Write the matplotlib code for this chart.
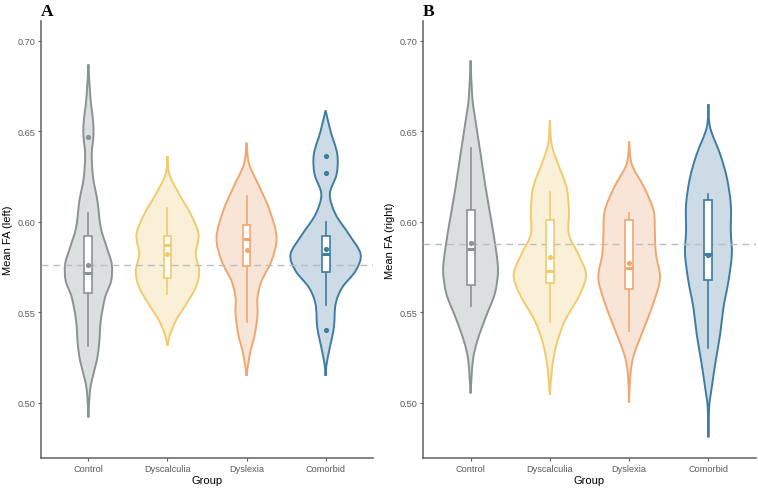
import matplotlib
matplotlib.use("Agg")
import matplotlib.pyplot as plt
import numpy as np
from matplotlib.path import Path
from matplotlib.patches import PathPatch, Rectangle

plt.rcParams['font.family'] = ['Liberation Sans', 'DejaVu Sans']

groups = ["Control", "Dyscalculia", "Dyslexia", "Comorbid"]
line_cols = ["#899392", "#F1CA6C", "#F0A76F", "#3E7DA1"]
fill_cols = ["#DCDFDF", "#FAF0D8", "#F9E5D7", "#CCDBE5"]

# violin outlines: levels (FA) and half widths (x units)
left_levels = [
    [0.492, 0.5049, 0.5123, 0.5233, 0.5325, 0.5454, 0.5583, 0.5674, 0.5767, 0.5859, 0.5969, 0.6116, 0.6245, 0.6374, 0.6475, 0.6557, 0.6687, 0.687],
    [0.5316, 0.538, 0.5454, 0.5528, 0.5638, 0.573, 0.5822, 0.5932, 0.6042, 0.6153, 0.6263, 0.6364],
    [0.515, 0.527, 0.538, 0.549, 0.5583, 0.5674, 0.5785, 0.5914, 0.6061, 0.619, 0.6318, 0.6438],
    [0.515, 0.5215, 0.5307, 0.5417, 0.5546, 0.5638, 0.573, 0.5822, 0.5932, 0.6042, 0.6153, 0.6263, 0.6374, 0.6502, 0.6617],
]
left_widths = [
    [0, .016, .042, .105, .135, .156, .211, .287, .295, .232, .156, .114, .059, .042, .063, .059, .025, 0],
    [0, .034, .105, .211, .358, .401, .358, .392, .295, .148, .025, 0],
    [0, .042, .105, .139, .139, .19, .316, .38, .295, .168, .034, 0],
    [0, .013, .054, .105, .127, .211, .38, .443, .295, .127, .054, .139, .148, .063, 0],
]
right_levels = [
    [0.5053, 0.5233, 0.5343, 0.5473, 0.5601, 0.573, 0.5859, 0.6006, 0.619, 0.6374, 0.6557, 0.6687, 0.6892],
    [0.5045, 0.5196, 0.5325, 0.5454, 0.5601, 0.5711, 0.5822, 0.5932, 0.6061, 0.619, 0.6318, 0.6429, 0.6561],
    [0.5003, 0.516, 0.527, 0.5417, 0.5564, 0.5693, 0.5822, 0.5932, 0.6061, 0.619, 0.6318, 0.6444],
    [0.481, 0.4976, 0.5086, 0.5233, 0.538, 0.5528, 0.5674, 0.5822, 0.595, 0.6098, 0.6245, 0.6374, 0.6521, 0.665],
]
right_widths = [
    [0, .029, .085, .19, .304, .346, .316, .262, .19, .127, .063, .022, 0],
    [0, .029, .085, .19, .38, .456, .358, .24, .24, .211, .105, .022, 0],
    [0, .016, .063, .19, .316, .389, .338, .325, .308, .19, .034, 0],
    [0, .009, .042, .092, .148, .19, .253, .295, .282, .282, .232, .148, .022, 0],
]

# box stats: whisker low, q1, median, q3, whisker high
left_box = [
    [0.5312, 0.5605, 0.5717, 0.5923, 0.6052],
    [0.5601, 0.5688, 0.5873, 0.5923, 0.6079],
    [0.5445, 0.5754, 0.5908, 0.5983, 0.6144],
    [0.5542, 0.5721, 0.5822, 0.5923, 0.5997],
]
right_box = [
    [0.5536, 0.5652, 0.5848, 0.6066, 0.6407],
    [0.5445, 0.5663, 0.5730, 0.6013, 0.6168],
    [0.5395, 0.5632, 0.5748, 0.6011, 0.6052],
    [0.5301, 0.5680, 0.5822, 0.6120, 0.6157],
]
left_means = [0.5761, 0.5822, 0.5846, 0.5849]
right_means = [0.5881, 0.5809, 0.5774, 0.5816]
left_outliers = [[0.6471], [], [], [0.6364, 0.6273, 0.5402]]
right_outliers = [[], [], [], []]
left_ref = 0.576
right_ref = 0.588


def side_path(xs, ys):
    # Catmull-Rom through the read points, drawn as cubic beziers
    p = np.column_stack([xs, ys])
    p = np.vstack([p[0], p, p[-1]])
    verts, codes = [], []
    for i in range(1, len(p) - 2):
        c1 = p[i] + (p[i + 1] - p[i - 1]) / 6
        c2 = p[i + 1] - (p[i + 2] - p[i]) / 6
        verts += [c1, c2, p[i + 1]]
        codes += [Path.CURVE4] * 3
    return verts, codes


def violin(ax, c, levels, widths, lc, fc):
    y = np.array(levels)
    w = np.array(widths)
    v1, c1 = side_path(c + w, y)
    v2, c2 = side_path((c - w)[::-1], y[::-1])
    verts = [(c, y[0])] + v1 + v2
    codes = [Path.MOVETO] + c1 + c2
    path = Path(verts, codes)
    ax.add_patch(PathPatch(path, facecolor=fc, edgecolor=lc, lw=1.4, zorder=2))


def panel(ax, levels, widths, box, means, outliers, ref, ylabel):
    for i in range(4):
        c = i + 1
        lc = line_cols[i]
        violin(ax, c, levels[i], widths[i], lc, fill_cols[i])
        lo, q1, med, q3, hi = box[i]
        ax.plot([c, c], [lo, q1], color=lc, lw=1.2, zorder=4)
        ax.plot([c, c], [q3, hi], color=lc, lw=1.2, zorder=4)
        ax.add_patch(Rectangle((c - 0.05, q1), 0.1, q3 - q1, facecolor="white",
                               edgecolor=lc, lw=1.2, zorder=4))
        ax.plot([c - 0.05, c + 0.05], [med, med], color=lc, lw=2.2,
                solid_capstyle="butt", zorder=5)
        ax.scatter([c], [means[i]], s=14, color=lc, zorder=6, linewidths=0)
        if outliers[i]:
            ax.scatter([c] * len(outliers[i]), outliers[i], s=14, color=lc,
                       zorder=6, linewidths=0)
    ax.axhline(ref, color="#BDBDBD", lw=1.0, ls=(0, (5, 3.5)), zorder=3)
    ax.set_xlim(0.4, 4.6)
    ax.set_ylim(0.4696, 0.711)
    ax.set_xticks(range(1, 5))
    ax.set_xticklabels(groups)
    ax.set_yticks([0.50, 0.55, 0.60, 0.65, 0.70])
    ax.set_yticklabels(["0.50", "0.55", "0.60", "0.65", "0.70"])
    for s in ["top", "right"]:
        ax.spines[s].set_visible(False)
    for s in ["left", "bottom"]:
        ax.spines[s].set_color("#606060")
        ax.spines[s].set_linewidth(1.1)
    ax.tick_params(labelsize=6.6, colors="#606060", labelcolor="#5A5A5A",
                   length=2.2, width=0.8, pad=2)
    ax.set_xlabel("Group", fontsize=8, labelpad=1.5)
    ax.set_ylabel(ylabel, fontsize=8, labelpad=3)


fig = plt.figure(figsize=(7.58, 4.89), dpi=100)
axA = fig.add_axes([41 / 758, 30 / 489, 332 / 758, 437 / 489])
axB = fig.add_axes([423 / 758, 30 / 489, 333 / 758, 437 / 489])
panel(axA, left_levels, left_widths, left_box, left_means, left_outliers, left_ref, "Mean FA (left)")
panel(axB, right_levels, right_widths, right_box, right_means, right_outliers, right_ref, "Mean FA (right)")

fig.text(41 / 758, 1 - 16 / 489, "A", family="Liberation Serif", weight="bold", fontsize=12.5)
fig.text(423 / 758, 1 - 16 / 489, "B", family="Liberation Serif", weight="bold", fontsize=12.5)

fig.savefig("out.png", dpi=100)
